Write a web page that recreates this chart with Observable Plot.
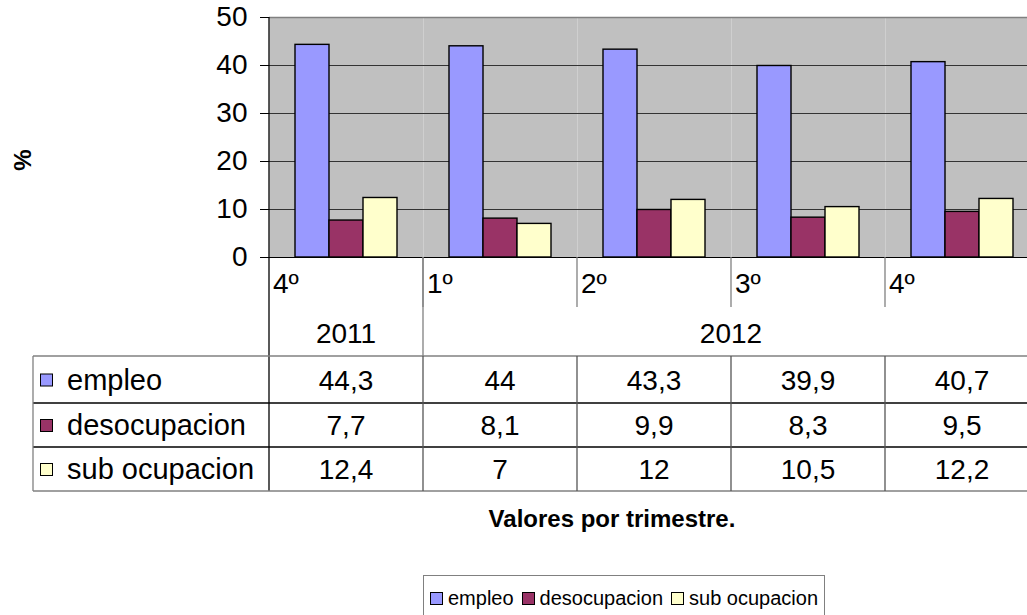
<!DOCTYPE html>
<html>
<head>
<meta charset="utf-8">
<script src="https://cdn.jsdelivr.net/npm/d3@7"></script>
<script src="https://cdn.jsdelivr.net/npm/@observablehq/plot@0.6"></script>
<style>
  html, body { margin: 0; padding: 0; background: #fff; }
  #wrap { position: relative; width: 1027px; height: 615px; overflow: hidden; font-family: "Liberation Sans", Arial, sans-serif; }
  #legend { position: absolute; left: 423px; top: 575px; width: 402px; height: 60px; border: 1px solid #808080; box-sizing: border-box; font-size: 20px; color: #000; display: flex; align-items: flex-start; padding: 11px 0 0 6px; white-space: nowrap; }
  #legend .item { display: flex; align-items: center; margin-right: 8px; }
  #legend .sw { width: 11px; height: 11px; border: 1px solid #000; margin-right: 5px; }
</style>
</head>
<body>
<div id="wrap"><div id="chart"></div><div id="legend"></div></div>
<script>
// ---- data ----
const quarters = ["4º", "1º", "2º", "3º", "4º"];
const years = ["2011", "2012", "2012", "2012", "2012"];
const seriesNames = ["empleo", "desocupacion", "sub ocupacion"];
const empleo = [44.3, 44, 43.3, 39.9, 40.7];
const desocupacion = [7.7, 8.1, 9.9, 8.3, 9.5];
const subOcupacion = [12.4, 7, 12, 10.5, 12.2];
const tableLabels = [
  ["44,3", "44", "43,3", "39,9", "40,7"],
  ["7,7", "8,1", "9,9", "8,3", "9,5"],
  ["12,4", "7", "12", "10,5", "12,2"]
];
const seriesColors = ["#9999FF", "#993366", "#FFFFCC"];
const yTicks = [0, 10, 20, 30, 40, 50];
const yLabel = "%";
const xTitle = "Valores por trimestre.";

// ---- build table for the library ----
const periods = quarters.map((q, i) => q + " " + years[i]);
const seriesValues = [empleo, desocupacion, subOcupacion];
const data = periods.flatMap((p, i) =>
  seriesNames.map((s, j) => ({period: p, series: s, value: seriesValues[j][i]}))
);

const FONT = "Liberation Sans, Arial, sans-serif";
const FS = 28;

const plot = Plot.plot({
  width: 1027,
  height: 615,
  marginLeft: 268,
  marginRight: -12,
  marginTop: 17,
  marginBottom: 358,
  style: {fontFamily: FONT, fontSize: FS + "px", color: "#000", background: "transparent"},
  fx: {domain: periods, padding: 0, axis: null},
  x: {domain: seriesNames, paddingInner: 0, paddingOuter: 0.75, axis: null},
  y: {domain: [0, 50]},
  color: {domain: seriesNames, range: seriesColors},
  marks: [
    Plot.frame({fill: "#C0C0C0", stroke: "none"}),
    Plot.gridY(yTicks.filter(t => t > 0 && t < 50), {stroke: "#333", strokeOpacity: 1, strokeWidth: 1.2}),
    Plot.ruleY([50], {stroke: "#808080", strokeWidth: 1.5}),
    Plot.barY(data, {fx: "period", x: "series", y: "value", fill: "series", stroke: "#000", strokeWidth: 1.4}),
    Plot.ruleY([0], {stroke: "#000", strokeWidth: 1.2}),
    Plot.axisY({ticks: yTicks, tickSize: 9, tickPadding: 13, label: null, fontSize: FS, stroke: "#000"})
  ]
});

document.getElementById("chart").appendChild(plot);

// ---- category rows + data table, positioned with the plot's own scales ----
const svg = d3.select(plot);
const fxs = plot.scale("fx");
const ys = plot.scale("y");
const bw = fxs.bandwidth;
const bandL = i => fxs.apply(periods[i]);
const y0 = ys.apply(0);
const yTop = ys.apply(50);
const plotLeft = bandL(0);
const plotRight = bandL(periods.length - 1) + bw;

const g = svg.append("g").attr("font-family", FONT).attr("font-size", FS)
  .attr("fill", "#000").attr("text-anchor", "start");

const catRowBottom = y0 + 50;      // quarter label row
const yearRowBottom = y0 + 99;     // year row
const rowH = [47, 44, 44];
const tableLeft = 33;
const rowTops = [yearRowBottom];
rowH.forEach(h => rowTops.push(rowTops[rowTops.length - 1] + h));
const tableBottom = rowTops[rowTops.length - 1];

// quarter labels
quarters.forEach((q, i) => {
  g.append("text").attr("x", bandL(i) + 4).attr("y", y0 + 36).attr("text-anchor", "start").text(q);
  if (i > 0) {
    g.append("line").attr("x1", bandL(i)).attr("x2", bandL(i))
      .attr("y1", y0).attr("y2", catRowBottom).attr("stroke", "#808080").attr("stroke-width", 1.3);
  }
});

// year labels (group consecutive equal years)
const yearGroups = [];
years.forEach((yr, i) => {
  const last = yearGroups[yearGroups.length - 1];
  if (last && last.year === yr) last.end = i; else yearGroups.push({year: yr, start: i, end: i});
});
yearGroups.forEach((gr, k) => {
  const xL = bandL(gr.start), xR = bandL(gr.end) + bw;
  g.append("text").attr("x", (xL + xR) / 2).attr("y", y0 + 86).attr("text-anchor", "middle").text(gr.year);
  if (k > 0) {
    g.append("line").attr("x1", xL).attr("x2", xL).attr("y1", y0).attr("y2", yearRowBottom)
      .attr("stroke", "#808080").attr("stroke-width", 1.3);
  }
});

// left axis line spanning plot + category rows + table
g.append("line").attr("x1", plotLeft).attr("x2", plotLeft).attr("y1", yTop).attr("y2", tableBottom)
  .attr("stroke", "#000").attr("stroke-width", 1.3);

// table horizontal lines
rowTops.forEach((yy, k) => {
  const outer = k === 0 || k === rowTops.length - 1;
  g.append("line").attr("x1", tableLeft).attr("x2", plotRight).attr("y1", yy).attr("y2", yy)
    .attr("stroke", outer ? "#808080" : "#000").attr("stroke-width", outer ? 1.6 : 1.3);
});
// table vertical lines
g.append("line").attr("x1", tableLeft).attr("x2", tableLeft).attr("y1", rowTops[0]).attr("y2", tableBottom)
  .attr("stroke", "#808080").attr("stroke-width", 1.3);
periods.forEach((p, i) => {
  if (i === 0) return;
  g.append("line").attr("x1", bandL(i)).attr("x2", bandL(i)).attr("y1", rowTops[0]).attr("y2", tableBottom)
    .attr("stroke", "#555").attr("stroke-width", 1.3);
});

// row headers and values
seriesNames.forEach((s, j) => {
  const top = rowTops[j], h = rowH[j];
  const base = top + h / 2 + 10;
  g.append("rect").attr("x", 40.5).attr("y", top + h / 2 - 5.5).attr("width", 12).attr("height", 12)
    .attr("fill", seriesColors[j]).attr("stroke", "#000").attr("stroke-width", 1);
  g.append("text").attr("x", 67).attr("y", base).attr("text-anchor", "start").attr("font-size", 29).text(s);
  periods.forEach((p, i) => {
    g.append("text").attr("x", bandL(i) + bw / 2).attr("y", base).attr("text-anchor", "middle")
      .text(tableLabels[j][i]);
  });
});

// y label
g.append("text").attr("transform", `translate(31,${(yTop + y0) / 2 + 23}) rotate(-90)`)
  .attr("text-anchor", "middle").attr("font-weight", "bold").attr("font-size", 24).text(yLabel);

// x title
g.append("text").attr("x", 612).attr("y", 527).attr("text-anchor", "middle")
  .attr("font-weight", "bold").attr("font-size", 24).text(xTitle);

// legend
const legend = d3.select("#legend");
seriesNames.forEach((s, j) => {
  const it = legend.append("div").attr("class", "item");
  it.append("div").attr("class", "sw").style("background", seriesColors[j]);
  it.append("span").text(s);
});
</script>
</body>
</html>
